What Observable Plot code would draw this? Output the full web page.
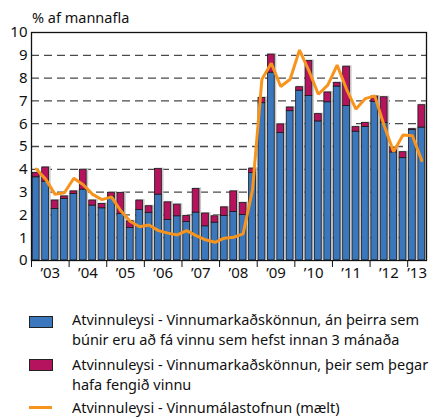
<!DOCTYPE html>
<html>
<head>
<meta charset="utf-8">
<script src="https://cdn.jsdelivr.net/npm/d3@7"></script>
<script src="https://cdn.jsdelivr.net/npm/@observablehq/plot@0.6"></script>
<style>
  body { margin: 0; background: #fff; font-family: "Noto Sans", sans-serif; }
  #wrap { position: relative; width: 435px; height: 419px; overflow: hidden; }
  #title { position: absolute; left: 32px; top: 7px; font-size: 14.5px; line-height: 20px; color: #111; }
  .lg { position: absolute; left: 72px; font-size: 14.5px; line-height: 19.5px; color: #111; white-space: nowrap; }
  .sw { position: absolute; left: 29px; width: 22px; height: 10px; border: 1px solid #222; }
  .ln { position: absolute; left: 29px; width: 23px; height: 3px; }
</style>
</head>
<body>
<div id="wrap">
  <div id="chart"></div>
  <div id="title">% af mannafla</div>
  <div class="sw" style="top:316px;background:#3a77bc"></div>
  <div class="lg" style="top:310px">Atvinnuleysi - Vinnumarkaðskönnun, án þeirra sem<br>búnir eru að fá vinnu sem hefst innan 3 mánaða</div>
  <div class="sw" style="top:359px;background:#b6135e"></div>
  <div class="lg" style="top:355px">Atvinnuleysi - Vinnumarkaðskönnun, þeir sem þegar<br>hafa fengið vinnu</div>
  <div class="ln" style="top:406px;background:#f7941d"></div>
  <div class="lg" style="top:398px">Atvinnuleysi - Vinnumálastofnun (mælt)</div>
</div>
<script>
// Quarterly data, 2003 Q1 – 2013 Q2
const startYear = 2003;
const blue = [3.65,3.46,2.26,2.70, 2.92,3.11,2.41,2.29, 2.80,2.04,1.43,2.22, 2.09,2.89,1.78,1.94,
              1.69,2.10,1.50,1.66, 1.95,2.13,2.00,3.84, 6.90,8.24,5.59,6.55, 7.45,7.22,6.10,6.94,
              7.63,6.78,5.65,5.86, 6.96,6.03,4.74,4.49, 5.72,5.83];
const magenta = [0.19,0.62,0.37,0.11, 0.11,0.87,0.22,0.19, 0.17,0.92,0.29,0.41, 0.29,1.12,0.77,0.51,
                 0.26,1.04,0.56,0.28, 0.38,0.90,0.52,0.19, 0.23,0.79,0.38,0.16, 0.15,1.53,0.32,0.43,
                 0.16,1.72,0.20,0.17, 0.23,1.13,0.21,0.26, 0.04,0.98];
const registered = [4.01,3.57,2.90,2.97, 3.61,3.32,2.90,2.67, 2.79,2.18,1.71,1.48, 1.56,1.31,1.20,1.12,
                    1.31,1.09,0.91,0.80, 0.98,1.02,1.17,3.10, 7.95,8.65,7.63,7.95, 9.23,8.32,7.29,7.69,
                    8.57,7.51,6.64,7.10, 7.22,5.91,4.77,5.50, 5.47,4.38];
const yearTicks = [2003,2004,2005,2006,2007,2008,2009,2010,2011,2012,2013];
const yearLabelPos = [2003.5,2004.5,2005.5,2006.5,2007.5,2008.5,2009.5,2010.5,2011.5,2012.5,2013.25];
const yTicks = [0,1,2,3,4,5,6,7,8,9,10];
const gridValues = [1,2,3,4,5,6,7,8,9];

const C_BLUE = "#3a77bc", C_MAG = "#b6135e", C_ORANGE = "#f7941d";

const data = blue.map((b, i) => ({
  t: startYear + Math.floor(i / 4) + ((i % 4) + 0.5) / 4,
  blue: b,
  total: b + magenta[i],
  reg: registered[i]
}));
const half = 0.125;

const chart = Plot.plot({
  width: 435,
  height: 285,
  marginLeft: 31,
  marginRight: 9,
  marginTop: 32,
  marginBottom: 25,
  style: { fontFamily: "Noto Sans, sans-serif", color: "#111", background: "transparent" },
  x: { domain: [2003, 2013.5] },
  y: { domain: [0, 10] },
  marks: [
    Plot.ruleY(gridValues, { stroke: "#4a4a4a", strokeWidth: 1.3, strokeDasharray: "8,5" }),
    Plot.rectY(data, { x1: d => d.t - half, x2: d => d.t + half, y1: 0, y2: "total",
      insetLeft: 0.6, insetRight: 0.2, dx: 1, dy: -1, fill: "#c8c8c8" }),
    Plot.rectY(data, { x1: d => d.t - half, x2: d => d.t + half, y1: 0, y2: "blue",
      insetLeft: 1.3, insetRight: 1.3, fill: C_BLUE, stroke: "#1a1a1a", strokeWidth: 0.8 }),
    Plot.rectY(data, { x1: d => d.t - half, x2: d => d.t + half, y1: "blue", y2: "total",
      insetLeft: 1.3, insetRight: 1.3, fill: C_MAG, stroke: "#1a1a1a", strokeWidth: 0.8 }),
    Plot.line(data, { x: "t", y: "reg", stroke: C_ORANGE, strokeWidth: 3, strokeLinejoin: "miter" }),
    Plot.axisY({ ticks: yTicks, tickSize: 0, tickPadding: 4, fontSize: 15, label: null }),
    Plot.axisX({ ticks: yearTicks, tickSize: 7, tickFormat: () => "", label: null, stroke: "#111" }),
    Plot.axisX({ ticks: yearLabelPos, tickSize: 0, tickPadding: 7, fontSize: 15, label: null,
      tickFormat: d => "\u2019" + String(Math.floor(d)).slice(2) }),
    Plot.frame({ stroke: "#111", strokeWidth: 1.3 })
  ]
});
document.getElementById("chart").appendChild(chart);
</script>
</body>
</html>
